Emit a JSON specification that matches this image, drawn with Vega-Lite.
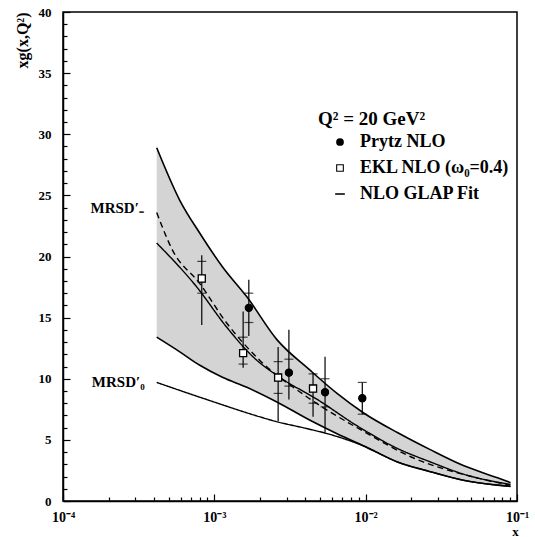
{
  "$schema": "https://vega.github.io/schema/vega-lite/v6.json",
  "width": 454,
  "height": 489,
  "autosize": {"type": "none"},
  "padding": {"left": 63, "top": 12, "right": 18, "bottom": 36},
  "background": "white",
  "config": {
    "view": {"stroke": "black", "strokeWidth": 1.5},
    "font": "Liberation Serif",
    "axis": {
      "labelFont": "Liberation Serif", "labelFontWeight": "bold", "labelColor": "black",
      "titleFont": "Liberation Serif", "titleFontWeight": "bold", "titleColor": "black",
      "domainColor": "black", "domainWidth": 1.5, "tickColor": "black", "tickWidth": 1.2, "grid": false
    },
    "legend": {
      "labelFont": "Liberation Serif", "labelFontWeight": "bold", "labelColor": "black",
      "titleFont": "Liberation Serif", "titleFontWeight": "bold", "titleColor": "black"
    }
  },
  "resolve": {"axis": {"x": "independent", "y": "independent"}},
  "datasets": {
    "band": [
      {"x": 0.000416, "up": 28.9, "lo": 13.4},
      {"x": 0.000591, "up": 24.6, "lo": 12.2},
      {"x": 0.000802, "up": 21.9, "lo": 11.1},
      {"x": 0.00114, "up": 19.1, "lo": 10.1},
      {"x": 0.00164, "up": 16.7, "lo": 9.3},
      {"x": 0.00259, "up": 13.2, "lo": 8.1},
      {"x": 0.00429, "up": 10.7, "lo": 6.6},
      {"x": 0.00647, "up": 8.8, "lo": 5.5},
      {"x": 0.0097, "up": 7.2, "lo": 4.5},
      {"x": 0.0162, "up": 5.6, "lo": 3.2},
      {"x": 0.0267, "up": 4.2, "lo": 2.4},
      {"x": 0.0442, "up": 2.9, "lo": 1.7},
      {"x": 0.0743, "up": 1.9, "lo": 1.3},
      {"x": 0.0906, "up": 1.5, "lo": 1.2}
    ],
    "curves": [
      {"curve": "fit", "x": 0.000416, "y": 21.1},
      {"curve": "fit", "x": 0.000766, "y": 17.5},
      {"curve": "fit", "x": 0.00121, "y": 14.2},
      {"curve": "fit", "x": 0.0018, "y": 11.8},
      {"curve": "fit", "x": 0.00272, "y": 10.1},
      {"curve": "fit", "x": 0.0048, "y": 8.3},
      {"curve": "fit", "x": 0.0089, "y": 6.1},
      {"curve": "fit", "x": 0.0162, "y": 4.3},
      {"curve": "fit", "x": 0.0267, "y": 3.2},
      {"curve": "fit", "x": 0.0442, "y": 2.2},
      {"curve": "fit", "x": 0.0906, "y": 1.35},
      {"curve": "mrsd", "x": 0.000416, "y": 23.6},
      {"curve": "mrsd", "x": 0.00053, "y": 20.5},
      {"curve": "mrsd", "x": 0.0008, "y": 17.8},
      {"curve": "mrsd", "x": 0.0012, "y": 14.6},
      {"curve": "mrsd", "x": 0.002, "y": 11.5},
      {"curve": "mrsd", "x": 0.004, "y": 8.6},
      {"curve": "mrsd", "x": 0.01, "y": 5.6},
      {"curve": "mrsd", "x": 0.02, "y": 3.6},
      {"curve": "mrsd", "x": 0.05, "y": 2.0},
      {"curve": "mrsd", "x": 0.09, "y": 1.3},
      {"curve": "mrsd0", "x": 0.000416, "y": 9.7},
      {"curve": "mrsd0", "x": 0.00089, "y": 8.3},
      {"curve": "mrsd0", "x": 0.00198, "y": 6.9},
      {"curve": "mrsd0", "x": 0.00256, "y": 6.5},
      {"curve": "mrsd0", "x": 0.004, "y": 5.95},
      {"curve": "mrsd0", "x": 0.0058, "y": 5.45},
      {"curve": "mrsd0", "x": 0.0097, "y": 4.5},
      {"curve": "mrsd0", "x": 0.0162, "y": 3.2},
      {"curve": "mrsd0", "x": 0.0267, "y": 2.4},
      {"curve": "mrsd0", "x": 0.0442, "y": 1.7},
      {"curve": "mrsd0", "x": 0.0906, "y": 1.2}
    ],
    "points": [
      {"series": "Prytz NLO", "x": 0.00169, "y": 15.8, "lo": 13.5, "hi": 18.1, "loIn": 14.6, "hiIn": 17.0},
      {"series": "Prytz NLO", "x": 0.00311, "y": 10.5, "lo": 8.3, "hi": 14.0, "loIn": 9.4, "hiIn": 11.6},
      {"series": "Prytz NLO", "x": 0.00539, "y": 8.9, "lo": 5.6, "hi": 11.8, "loIn": 7.7, "hiIn": 10.0},
      {"series": "Prytz NLO", "x": 0.0095, "y": 8.4, "lo": 7.1, "hi": 9.7, "loIn": 7.1, "hiIn": 9.7},
      {"series": "EKL NLO (ω₀=0.4)", "x": 0.000826, "y": 18.2, "lo": 14.4, "hi": 20.1, "loIn": 17.0, "hiIn": 19.6},
      {"series": "EKL NLO (ω₀=0.4)", "x": 0.00155, "y": 12.1, "lo": 10.9, "hi": 15.5, "loIn": 11.2, "hiIn": 13.4},
      {"series": "EKL NLO (ω₀=0.4)", "x": 0.00264, "y": 10.1, "lo": 6.5, "hi": 12.6, "loIn": 8.8, "hiIn": 11.4},
      {"series": "EKL NLO (ω₀=0.4)", "x": 0.00449, "y": 9.2, "lo": 6.9, "hi": 10.5, "loIn": 8.0, "hiIn": 10.4}
    ],
    "labels": [
      {"t": "MRSD′₋", "x": 0.000152, "y": 24.0},
      {"t": "MRSD′₀", "x": 0.000155, "y": 9.7}
    ]
  },
  "layer": [
    {
      "data": {"name": "band"},
      "mark": {"type": "area", "fill": "#d4d4d4", "opacity": 1},
      "encoding": {
        "x": {
          "field": "x", "type": "quantitative",
          "scale": {"type": "log", "domain": [0.0001, 0.1], "nice": false},
          "axis": {
            "orient": "bottom", "ticks": false,
            "title": "x", "titleFontSize": 13, "titleX": 452, "titleY": 24, "titleAlign": "center", "titleBaseline": "top",
            "values": [0.0001, 0.001, 0.01, 0.1],
            "labelExpr": "datum.value < 0.0005 ? '10⁻⁴' : datum.value < 0.005 ? '10⁻³' : datum.value < 0.05 ? '10⁻²' : '10⁻¹'",
            "labelFontSize": 14, "labelPadding": 9, "labelOverlap": false, "labelBound": false, "labelFlush": false
          }
        },
        "y": {
          "field": "up", "type": "quantitative",
          "scale": {"domain": [0, 40], "nice": false},
          "axis": {
            "orient": "left", "ticks": false,
            "title": "xg(x,Q²)", "titleFontSize": 16, "titleAngle": -90, "titleX": -41, "titleY": 0, "titleAlign": "right", "titleBaseline": "middle",
            "values": [0, 5, 10, 15, 20, 25, 30, 35, 40],
            "labelFontSize": 13, "labelPadding": 12, "labelOverlap": false, "labelBound": false, "labelFlush": false
          }
        },
        "y2": {"field": "lo"}
      }
    },
    {
      "data": {"name": "band"},
      "mark": {"type": "line", "color": "black", "strokeWidth": 1.6, "interpolate": "monotone"},
      "encoding": {
        "x": {
          "field": "x", "type": "quantitative",
          "axis": {
            "orient": "bottom", "title": null, "labels": false, "domain": false, "tickSize": 4, "offset": -4,
            "values": [0.0002, 0.0003, 0.0004, 0.0005, 0.0006, 0.0007, 0.0008, 0.0009, 0.002, 0.003, 0.004, 0.005, 0.006, 0.007, 0.008, 0.009, 0.02, 0.03, 0.04, 0.05, 0.06, 0.07, 0.08, 0.09]
          }
        },
        "y": {
          "field": "up", "type": "quantitative",
          "axis": {
            "orient": "left", "title": null, "labels": false, "domain": false, "tickSize": 4, "offset": -4,
            "values": [1,2,3,4,6,7,8,9,11,12,13,14,16,17,18,19,21,22,23,24,26,27,28,29,31,32,33,34,36,37,38,39]
          }
        }
      }
    },
    {
      "data": {"name": "band"},
      "mark": {"type": "line", "color": "black", "strokeWidth": 1.6, "interpolate": "monotone"},
      "encoding": {
        "x": {
          "field": "x", "type": "quantitative",
          "axis": {
            "orient": "bottom", "title": null, "labels": false, "domain": false, "tickSize": 7, "offset": -7,
            "values": [0.0001, 0.001, 0.01, 0.1]
          }
        },
        "y": {
          "field": "lo", "type": "quantitative",
          "axis": {
            "orient": "left", "title": null, "labels": false, "domain": false, "tickSize": 7, "offset": -7,
            "values": [0, 5, 10, 15, 20, 25, 30, 35, 40]
          }
        }
      }
    },
    {
      "data": {"name": "curves"},
      "mark": {"type": "line", "color": "black", "strokeWidth": 1.4, "interpolate": "monotone"},
      "encoding": {
        "x": {"field": "x", "type": "quantitative", "axis": null},
        "y": {"field": "y", "type": "quantitative", "axis": null},
        "detail": {"field": "curve"},
        "strokeDash": {"field": "curve", "type": "nominal", "scale": {"domain": ["fit", "mrsd", "mrsd0"], "range": [[1, 0], [6, 4], [1, 0]]}, "legend": null}
      }
    },
    {
      "data": {"name": "points"},
      "mark": {"type": "rule", "color": "black", "strokeWidth": 1.2},
      "encoding": {
        "x": {"field": "x", "type": "quantitative", "axis": null},
        "y": {"field": "lo", "type": "quantitative", "axis": null},
        "y2": {"field": "hi"}
      }
    },
    {
      "data": {"name": "points"},
      "mark": {"type": "tick", "orient": "horizontal", "color": "black", "size": 9, "thickness": 1.2},
      "encoding": {
        "x": {"field": "x", "type": "quantitative", "axis": null},
        "y": {"field": "hiIn", "type": "quantitative", "axis": null}
      }
    },
    {
      "data": {"name": "points"},
      "mark": {"type": "tick", "orient": "horizontal", "color": "black", "size": 9, "thickness": 1.2},
      "encoding": {
        "x": {"field": "x", "type": "quantitative", "axis": null},
        "y": {"field": "loIn", "type": "quantitative", "axis": null}
      }
    },
    {
      "data": {"name": "points"},
      "mark": {"type": "point", "filled": true, "fill": "black", "strokeWidth": 0, "size": 55, "opacity": 1},
      "encoding": {
        "x": {"field": "x", "type": "quantitative", "axis": null},
        "y": {"field": "y", "type": "quantitative", "axis": null},
        "shape": {
          "field": "series", "type": "nominal",
          "scale": {
            "domain": ["Prytz NLO", "EKL NLO (ω₀=0.4)", "NLO GLAP Fit"],
            "range": ["circle", "M-1,-1H1V1H-1Z M-0.72,-0.72V0.72H0.72V-0.72Z", "M-1.25,-0.2H1.25V0.2H-1.25Z"]
          },
          "legend": {
            "title": "Q² = 20 GeV²", "orient": "none", "legendX": 255, "legendY": 98,
            "titleFontSize": 19, "labelFontSize": 18, "labelLimit": 300,
            "symbolOffset": 13, "symbolSize": 60, "symbolFillColor": "black", "symbolStrokeWidth": 0,
            "rowPadding": 8, "labelOffset": 11, "titlePadding": 4
          }
        }
      }
    },
    {
      "data": {"name": "points"},
      "transform": [{"filter": "datum.series !== 'Prytz NLO'"}],
      "mark": {"type": "point", "shape": "square", "filled": true, "fill": "white", "stroke": "black", "strokeWidth": 1.3, "size": 50, "opacity": 1},
      "encoding": {
        "x": {"field": "x", "type": "quantitative", "axis": null},
        "y": {"field": "y", "type": "quantitative", "axis": null}
      }
    },
    {
      "data": {"name": "points"},
      "transform": [{"filter": "datum.series === 'Prytz NLO'"}],
      "mark": {"type": "point", "shape": "circle", "filled": true, "fill": "black", "stroke": "black", "strokeWidth": 1.3, "size": 50, "opacity": 1},
      "encoding": {
        "x": {"field": "x", "type": "quantitative", "axis": null},
        "y": {"field": "y", "type": "quantitative", "axis": null}
      }
    },
    {
      "data": {"name": "labels"},
      "mark": {"type": "text", "align": "left", "baseline": "middle", "font": "Liberation Serif", "fontWeight": "bold", "fontSize": 15, "color": "black"},
      "encoding": {
        "x": {"field": "x", "type": "quantitative", "axis": null},
        "y": {"field": "y", "type": "quantitative", "axis": null},
        "text": {"field": "t"}
      }
    }
  ]
}
